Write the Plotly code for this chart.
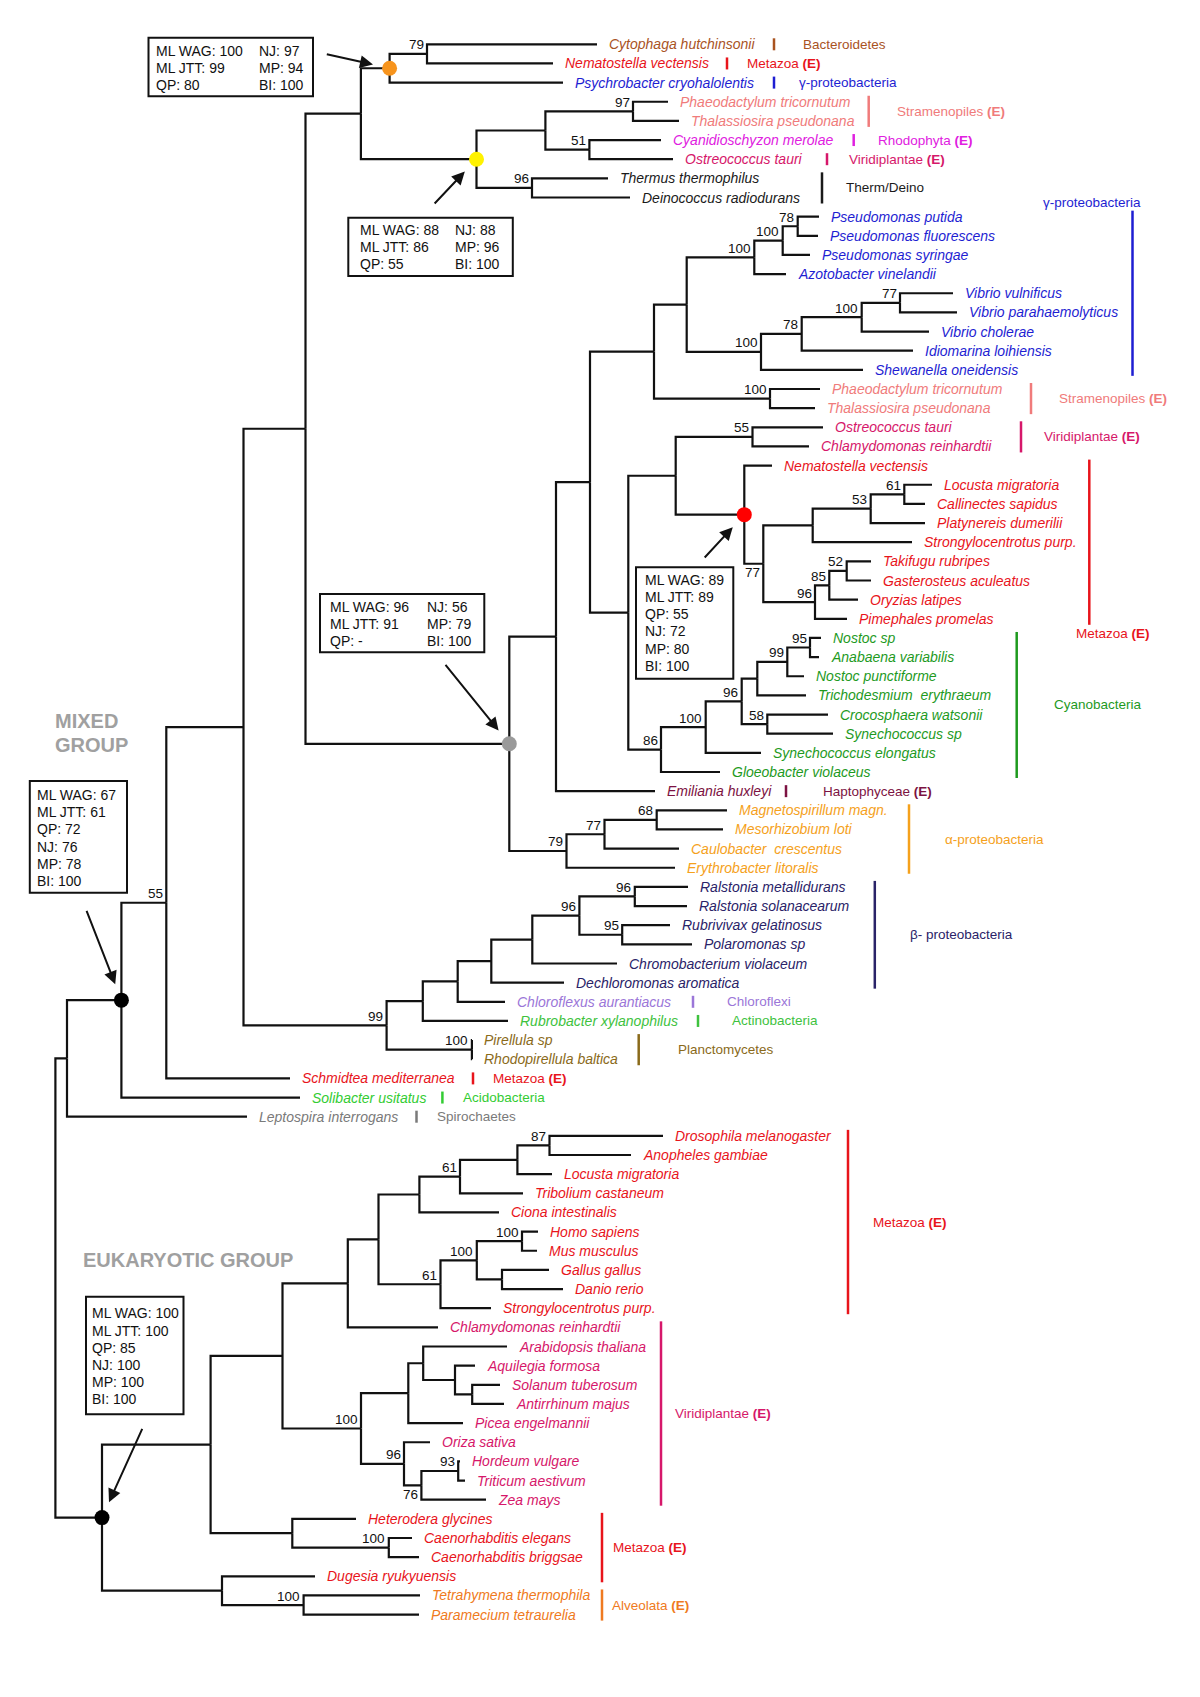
import math
import plotly.graph_objects as go

# ---------------------------------------------------------------- data
# leaves, top to bottom
taxa = [
    "Cytophaga hutchinsonii", "Nematostella vectensis", "Psychrobacter cryohalolentis",
    "Phaeodactylum tricornutum", "Thalassiosira pseudonana", "Cyanidioschyzon merolae",
    "Ostreococcus tauri", "Thermus thermophilus", "Deinococcus radiodurans",
    "Pseudomonas putida", "Pseudomonas fluorescens", "Pseudomonas syringae",
    "Azotobacter vinelandii", "Vibrio vulnificus", "Vibrio parahaemolyticus",
    "Vibrio cholerae", "Idiomarina loihiensis", "Shewanella oneidensis",
    "Phaeodactylum tricornutum", "Thalassiosira pseudonana", "Ostreococcus tauri",
    "Chlamydomonas reinhardtii", "Nematostella vectensis", "Locusta migratoria",
    "Callinectes sapidus", "Platynereis dumerilii", "Strongylocentrotus purp.",
    "Takifugu rubripes", "Gasterosteus aculeatus", "Oryzias latipes",
    "Pimephales promelas", "Nostoc sp", "Anabaena variabilis", "Nostoc punctiforme",
    "Trichodesmium  erythraeum", "Crocosphaera watsonii", "Synechococcus sp",
    "Synechococcus elongatus", "Gloeobacter violaceus", "Emiliania huxleyi",
    "Magnetospirillum magn.", "Mesorhizobium loti", "Caulobacter  crescentus",
    "Erythrobacter litoralis", "Ralstonia metallidurans", "Ralstonia solanacearum",
    "Rubrivivax gelatinosus", "Polaromonas sp", "Chromobacterium violaceum",
    "Dechloromonas aromatica", "Chloroflexus aurantiacus", "Rubrobacter xylanophilus",
    "Pirellula sp", "Rhodopirellula baltica", "Schmidtea mediterranea",
    "Solibacter usitatus", "Leptospira interrogans", "Drosophila melanogaster",
    "Anopheles gambiae", "Locusta migratoria", "Tribolium castaneum",
    "Ciona intestinalis", "Homo sapiens", "Mus musculus", "Gallus gallus",
    "Danio rerio", "Strongylocentrotus purp.", "Chlamydomonas reinhardtii",
    "Arabidopsis thaliana", "Aquilegia formosa", "Solanum tuberosum",
    "Antirrhinum majus", "Picea engelmannii", "Oriza sativa", "Hordeum vulgare",
    "Triticum aestivum", "Zea mays", "Heterodera glycines", "Caenorhabditis elegans",
    "Caenorhabditis briggsae", "Dugesia ryukyuensis", "Tetrahymena thermophila",
    "Paramecium tetraurelia",
]

# depth of each leaf tip (tree scale)
tip_depth = [
    597, 553, 563, 668, 679, 661, 673, 608, 630,
    819, 818, 810, 786, 953, 957, 929, 913, 863,
    820, 815, 823, 809,
    772, 932, 925, 925, 912, 871, 871, 858, 847,
    821, 819, 804, 806, 828, 833, 761, 720,
    655,
    727, 723, 679, 675,
    688, 687, 670, 692, 617, 564,
    505, 508, 472, 472, 290, 300, 247,
    663, 631, 552, 523, 499, 538, 537, 549, 563, 491,
    438, 507, 475, 500, 504, 463, 430, 460, 465, 486,
    356, 412, 419, 315, 420, 419,
]

# taxonomic groups: label, first leaf, last leaf
group_names = [
    "Bacteroidetes", "Metazoa (E)", "γ-proteobacteria", "Stramenopiles (E)",
    "Rhodophyta (E)", "Viridiplantae (E)", "Therm/Deino", "γ-proteobacteria",
    "Stramenopiles (E)", "Viridiplantae (E)", "Metazoa (E)", "Cyanobacteria",
    "Haptophyceae (E)", "α-proteobacteria", "β- proteobacteria", "Chloroflexi",
    "Actinobacteria", "Planctomycetes", "Metazoa (E)", "Acidobacteria",
    "Spirochaetes", "Metazoa (E)", "Viridiplantae (E)", "Metazoa (E)", "Alveolata (E)",
]
group_first = [0, 1, 2, 3, 5, 6, 7, 9, 18, 20, 22, 31, 39, 40, 44, 50, 51, 52, 54, 55, 56, 57, 67, 77, 81]
group_last = [0, 1, 2, 4, 5, 6, 8, 17, 19, 21, 30, 38, 39, 43, 49, 50, 51, 53, 54, 55, 56, 66, 76, 80, 82]

# support boxes (ML WAG / ML JTT / QP / NJ / MP / BI)
box_orange = [["ML WAG: 100", "ML JTT: 99", "QP: 80"], ["NJ: 97", "MP: 94", "BI: 100"]]
box_yellow = [["ML WAG: 88", "ML JTT: 86", "QP: 55"], ["NJ: 88", "MP: 96", "BI: 100"]]
box_gray = [["ML WAG: 96", "ML JTT: 91", "QP: -"], ["NJ: 56", "MP: 79", "BI: 100"]]
box_red = [["ML WAG: 89", "ML JTT: 89", "QP: 55", "NJ: 72", "MP: 80", "BI: 100"]]
box_mixed = [["ML WAG: 67", "ML JTT: 61", "QP: 72", "NJ: 76", "MP: 78", "BI: 100"]]
box_euk = [["ML WAG: 100", "ML JTT: 100", "QP: 85", "NJ: 100", "MP: 100", "BI: 100"]]


def N(depth, support, *kids, tag=None, below=False):
    return {"x": depth, "support": support, "kids": list(kids), "tag": tag, "below": below}


# topology with node depths and bootstrap support
top_clade = N(360.9, "",
              N(389.6, "", N(427, "79", 0, 1), 2, tag="orange"),
              N(476.5, "",
                N(545.4, "", N(633, "97", 3, 4), N(589.4, "51", 5, 6)),
                N(532, "96", 7, 8), tag="yellow"))

gamma = N(686.7, "",
          N(754.3, "100", N(782.7, "100", N(797.7, "78", 9, 10), 11), 12),
          N(761, "100", N(801.7, "78", N(861.7, "100", N(900, "77", 13, 14), 15), 16), 17))

metazoa_a = N(744.3, "", 22,
              N(763.3, "77",
                N(812.7, "", N(870.7, "53", N(904.3, "61", 23, 24), 25), 26),
                N(815, "96", N(829.3, "85", N(846.7, "52", 27, 28), 29), 30),
                below=True),
              tag="red")

cyano = N(661, "86",
          N(705.7, "100",
            N(741.7, "96",
              N(757.3, "", N(787.3, "99", N(810, "95", 31, 32), 33), 34),
              N(767.3, "58", 35, 36)),
            37),
          38)

gray_clade = N(509.3, "",
               N(556, "",
                 N(590, "",
                   N(654, "", gamma, N(770, "100", 18, 19)),
                   N(628.3, "", N(675.7, "", N(752.5, "55", 20, 21), metazoa_a), cyano)),
                 39),
               N(566.5, "79", N(604.5, "77", N(656.7, "68", 40, 41), 42), 43),
               tag="gray")

beta = N(386.6, "99",
         N(422.8, "",
           N(457.7, "",
             N(491.3, "",
               N(532.3, "",
                 N(579.4, "96", N(634.8, "96", 44, 45), N(622.2, "95", 46, 47)),
                 48),
               49),
             50),
           51),
         N(471.9, "100", 52, 53))

mixed = N(67, "",
          N(121.4, "",
            N(166.3, "55",
              N(243.5, "", N(305.5, "", top_clade, gray_clade), beta),
              54),
            55, tag="mixed"),
          56)

eukaryotes = N(102, "",
               N(210.6, "",
                 N(282.5, "",
                   N(347.8, "",
                     N(378.5, "",
                       N(419.4, "",
                         N(460, "61", N(517.4, "", N(549.5, "87", 57, 58), 59), 60),
                         61),
                       N(440.5, "61",
                         N(476.8, "100", N(522, "100", 62, 63), N(502, "", 64, 65)),
                         66)),
                     67),
                   N(361, "100",
                     N(408.3, "",
                       N(423.2, "", 68, N(455, "", 69, N(472.2, "", 70, 71))),
                       72),
                     N(404, "96", 73,
                       N(421.4, "76", N(458.2, "93", 74, 75), 76, below=True)))),
                 N(292.3, "", 77, N(388.8, "100", 78, 79))),
               N(222, "", 80, N(303.6, "100", 81, 82)),
               tag="euk")

tree = N(55.4, "", mixed, eukaryotes)

# ---------------------------------------------------------------- styles
W, H = 1200, 1697
PAD = 8                      # default body margin of the html page
ROW0, ROW_H = 44.3, 19.15    # vertical placement of leaf rows
LABEL_GAP = 11
FONT = "Liberation Sans, Arial, Helvetica, sans-serif"

group_colors = {
    "Bacteroidetes": "#a9531f", "Metazoa": "#e8141b", "γ-proteobacteria": "#1e1ed2",
    "Stramenopiles": "#f07b7b", "Rhodophyta": "#e020e0", "Viridiplantae": "#d6176a",
    "Therm/Deino": "#1a1a1a", "Cyanobacteria": "#1e9a1e", "Haptophyceae": "#7c1242",
    "α-proteobacteria": "#f5a11c", "β- proteobacteria": "#2a2368",
    "Chloroflexi": "#9b76d8", "Actinobacteria": "#3ec23e", "Planctomycetes": "#8a6a1a",
    "Acidobacteria": "#33cc33", "Spirochaetes": "#7a7a7a", "Alveolata": "#ef7a21",
}
dot_colors = {"orange": "#f7941d", "yellow": "#fff200", "gray": "#9a9a9a",
              "red": "#ff0000", "mixed": "#000000", "euk": "#000000"}

# bar x, label x for each group; label y overrides
group_bar_x = [774, 727, 774, 868.7, 853.7, 827, 822, 1132.5, 1031, 1021, 1089.3, 1016.7,
               786, 909, 874.8, 693, 698, 638.7, 473, 442.4, 416.5, 848, 661, 602, 602]
group_label_x = [802, 746, 798, 895.6, 876.6, 848, 845, 1041.7, 1058.3, 1042.7, 1075,
                 1052.7, 821.7, 944, 908.5, 725.5, 731.3, 676.6, 492, 461.6, 435.5, 872,
                 674.3, 612, 611]
group_label_y = {7: 202, 10: 633}

# boxes: rect, column x's, first row y, row step, arrow tail, target node tag
box_layout = [
    (box_orange, (148.5, 37.7, 313, 96.3), (155, 257.6), 51, 17, (325.3, 54), "orange"),
    (box_yellow, (348.3, 217.7, 512.8, 276), (358.6, 454.3), 230.3, 17, (433.2, 205), "yellow"),
    (box_gray, (320, 594, 484.3, 652.3), (329.3, 426), 606.5, 17.3, (444.3, 663.3), "gray"),
    (box_red, (636, 567.3, 733.3, 678.7), (644.3,), 579.5, 17.25, (703.3, 559), "red"),
    (box_mixed, (29.8, 781, 127, 892.7), (36.1,), 795, 17.2, (86, 909.3), "mixed"),
    (box_euk, (86, 1296.7, 183.5, 1414.3), (91.2,), 1313.3, 17.2, (142.9, 1427.3), "euk"),
]


def leaf_y(i):
    return ROW0 + ROW_H * i


def group_key(name):
    return name.replace(" (E)", "")


# ---------------------------------------------------------------- tree layout
seg_x, seg_y = [], []
node_pos = {}
support_labels = []


def place(node):
    if isinstance(node, int):
        return tip_depth[node], leaf_y(node)
    pts = [place(k) for k in node["kids"]]
    x = node["x"]
    y = (pts[0][1] + pts[-1][1]) / 2
    for cx, cy in pts:
        seg_x.extend([x, x, cx, None])
        seg_y.extend([y, cy, cy, None])
    if node["tag"]:
        node_pos[node["tag"]] = (x, y)
    if node["support"]:
        support_labels.append((x, y, node["support"], node["below"]))
    return x, y


place(tree)

fig = go.Figure()
fig.add_trace(go.Scatter(x=seg_x, y=seg_y, mode="lines",
                         line=dict(color="#111111", width=2.2),
                         hoverinfo="skip", showlegend=False))

tags = list(dot_colors)
fig.add_trace(go.Scatter(
    x=[node_pos[t][0] for t in tags], y=[node_pos[t][1] for t in tags],
    mode="markers", marker=dict(size=15, color=[dot_colors[t] for t in tags]),
    hoverinfo="skip", showlegend=False))

annotations = []
shapes = []

# taxon colours from groups
leaf_color = [None] * len(taxa)
for name, a, b in zip(group_names, group_first, group_last):
    for i in range(a, b + 1):
        leaf_color[i] = group_colors[group_key(name)]

for i, name in enumerate(taxa):
    annotations.append(dict(
        x=tip_depth[i] + LABEL_GAP, y=leaf_y(i), text="<i>%s</i>" % name.replace("  ", " &nbsp;"),
        xanchor="left", yanchor="middle", showarrow=False, borderpad=0,
        font=dict(family=FONT, size=14, color=leaf_color[i])))

for x, y, s, below in support_labels:
    annotations.append(dict(
        x=x - 2.5, y=y + (9 if below else -9), text=s, xanchor="right", yanchor="middle",
        showarrow=False, borderpad=0, font=dict(family=FONT, size=13.5, color="#111111")))

for gi, name in enumerate(group_names):
    col = group_colors[group_key(name)]
    y0 = leaf_y(group_first[gi]) - 6
    y1 = leaf_y(group_last[gi]) + 6
    shapes.append(dict(type="line", x0=group_bar_x[gi], x1=group_bar_x[gi], y0=y0, y1=y1,
                       xref="x", yref="y", line=dict(color=col, width=2.5)))
    txt = name.replace("(E)", "<b>(E)</b>")
    ly = group_label_y.get(gi, (y0 + y1) / 2)
    annotations.append(dict(
        x=group_label_x[gi], y=ly, text=txt, xanchor="left", yanchor="middle",
        showarrow=False, borderpad=0, font=dict(family=FONT, size=13.5, color=col)))

# support boxes with arrows
for cols, rect, col_x, row0, step, tail, tag in box_layout:
    shapes.append(dict(type="rect", x0=rect[0], y0=rect[1], x1=rect[2], y1=rect[3],
                       xref="x", yref="y", line=dict(color="#111111", width=2)))
    for cx, lines in zip(col_x, cols):
        for r, t in enumerate(lines):
            annotations.append(dict(
                x=cx, y=row0 + r * step, text=t, xanchor="left", yanchor="middle",
                showarrow=False, borderpad=0, font=dict(family=FONT, size=14, color="#111111")))
    nx, ny = node_pos[tag]
    dx, dy = tail[0] - nx, tail[1] - ny
    d = math.hypot(dx, dy)
    annotations.append(dict(
        x=nx + 17 * dx / d, y=ny + 17 * dy / d, ax=tail[0], ay=tail[1],
        xref="x", yref="y", axref="x", ayref="y", text="", showarrow=True,
        arrowhead=2, arrowsize=1.3, arrowwidth=2, arrowcolor="#111111"))

for txt, x, y in [("MIXED", 54.4, 720.7), ("GROUP", 54.4, 745), ("EUKARYOTIC GROUP", 81.8, 1260)]:
    annotations.append(dict(
        x=x, y=y, text="<b>%s</b>" % txt, xanchor="left", yanchor="middle", showarrow=False,
        borderpad=0, font=dict(family=FONT, size=20, color="#a0a0a0")))

fig.update_layout(
    width=W - 2 * PAD, height=H - 2 * PAD,
    margin=dict(l=0, r=0, t=0, b=0),
    paper_bgcolor="white", plot_bgcolor="white",
    xaxis=dict(range=[PAD, W - PAD], visible=False, fixedrange=True),
    yaxis=dict(range=[H - PAD, PAD], visible=False, fixedrange=True),
    annotations=annotations, shapes=shapes,
)

fig.write_html("out.html")
